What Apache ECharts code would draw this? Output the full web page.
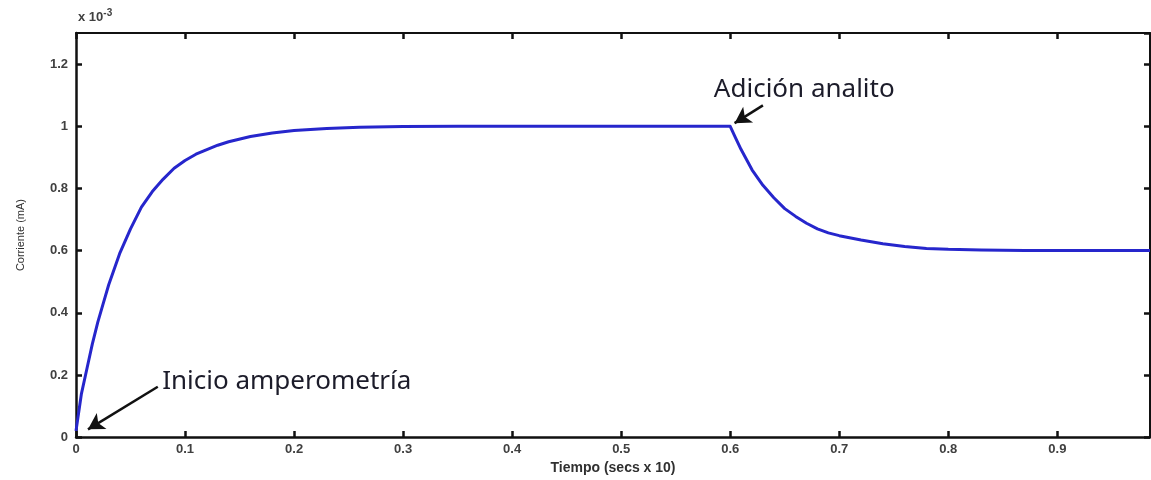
<!DOCTYPE html>
<html>
<head>
<meta charset="utf-8">
<script src="https://cdn.jsdelivr.net/npm/echarts@6/dist/echarts.min.js"></script>
<style>html,body{margin:0;padding:0;background:#fff}#c{width:1151px;height:480px}</style>
</head>
<body>
<div id="c"></div>
<script>
// Time (secs x 10)
const times = [0, 0.005, 0.01, 0.015, 0.02, 0.025, 0.03, 0.04, 0.05, 0.06, 0.07, 0.08, 0.09, 0.1, 0.11, 0.12, 0.13, 0.14, 0.16, 0.18, 0.2, 0.23, 0.26, 0.3, 0.35, 0.6,
  0.605, 0.61, 0.62, 0.63, 0.64, 0.65, 0.66, 0.67, 0.68, 0.69, 0.7, 0.72, 0.74, 0.76, 0.78, 0.8, 0.83, 0.87, 0.985];
// Current (mA x 10^-3)
const current = [0.02, 0.14, 0.22, 0.30, 0.37, 0.43, 0.49, 0.59, 0.67, 0.74, 0.79, 0.83, 0.865, 0.89, 0.91, 0.925, 0.939, 0.95, 0.967, 0.978, 0.986, 0.993, 0.997, 0.999, 1.0, 1.0,
  0.962, 0.925, 0.86, 0.81, 0.77, 0.735, 0.71, 0.688, 0.67, 0.657, 0.648, 0.634, 0.622, 0.613, 0.607, 0.604, 0.602, 0.6, 0.6];
const xTickLabels = ['0', '0.1', '0.2', '0.3', '0.4', '0.5', '0.6', '0.7', '0.8', '0.9'];
const yTickLabels = ['0', '0.2', '0.4', '0.6', '0.8', '1', '1.2'];
const xRange = [0, 0.985];
const yRange = [0, 1.3];
const annotations = [
  { text: 'Adición analito', at: [0.585, 1.118], arrowFrom: [0.630, 1.067], arrowTo: [0.604, 1.01] },
  { text: 'Inicio amperometría', at: [0.079, 0.18], arrowFrom: [0.075, 0.162], arrowTo: [0.011, 0.025] }
];

const seriesData = times.map((t, i) => [t, current[i]]);
const fmt = (list) => (v) => { const s = String(+v.toFixed(3)); return list.includes(s) ? s : ''; };
const labelStyle = { color: '#404040', fontFamily: 'Liberation Sans, Arial', fontWeight: 'bold', fontSize: 13 };
const lineStyleAx = { color: '#111', width: 2.5 };

const chart = echarts.init(document.getElementById('c'), null, { renderer: 'canvas' });
chart.setOption({
  animation: false,
  backgroundColor: '#fff',
  grid: { left: 76, right: 1, top: 33, bottom: 37 },
  xAxis: [
    {
      type: 'value', min: xRange[0], max: xRange[1], interval: 0.1, position: 'bottom',
      name: 'Tiempo (secs x 10)', nameLocation: 'middle', nameGap: 21,
      nameTextStyle: { color: '#303030', fontFamily: 'Liberation Sans, Arial', fontWeight: 'bold', fontSize: 14 },
      axisLine: { onZero: false, lineStyle: lineStyleAx },
      axisTick: { inside: true, length: 6, lineStyle: { color: '#111', width: 2.5 } },
      axisLabel: Object.assign({ formatter: fmt(xTickLabels), margin: 6, showMaxLabel: false }, labelStyle),
      splitLine: { show: false }
    },
    {
      type: 'value', min: xRange[0], max: xRange[1], interval: 0.1, position: 'top',
      axisLine: { onZero: false, lineStyle: { color: '#111', width: 2 } },
      axisTick: { inside: true, length: 6, lineStyle: { color: '#111', width: 2.5 } },
      axisLabel: { show: false }, splitLine: { show: false }
    }
  ],
  yAxis: [
    {
      type: 'value', min: yRange[0], max: yRange[1], interval: 0.2, position: 'left',
      name: 'Corriente (mA)', nameLocation: 'middle', nameGap: 50, nameRotate: 90,
      nameTextStyle: { color: '#303030', fontFamily: 'Liberation Sans, Arial', fontSize: 11 },
      axisLine: { onZero: false, lineStyle: lineStyleAx },
      axisTick: { inside: true, length: 6, lineStyle: { color: '#111', width: 2.5 } },
      axisLabel: Object.assign({ formatter: fmt(yTickLabels), margin: 8, showMaxLabel: false }, labelStyle),
      splitLine: { show: false }
    },
    {
      type: 'value', min: yRange[0], max: yRange[1], interval: 0.2, position: 'right',
      axisLine: { onZero: false, lineStyle: { color: '#111', width: 2 } },
      axisTick: { inside: true, length: 6, lineStyle: { color: '#111', width: 2.5 } },
      axisLabel: { show: false }, splitLine: { show: false }
    }
  ],
  series: [
    {
      type: 'line', data: seriesData, showSymbol: false,
      smooth: false,
      lineStyle: { color: '#2626cc', width: 3, join: 'round' }
    },
    {
      type: 'line', data: [], silent: true,
      markLine: {
        silent: true, symbol: ['none', 'arrow'], symbolSize: [14, 16],
        lineStyle: { color: '#111', width: 2.5, type: 'solid' },
        label: { show: false },
        data: annotations.map(a => [{ coord: a.arrowFrom }, { coord: a.arrowTo }])
      },
      markPoint: {
        silent: true, symbol: 'circle', symbolSize: 0,
        label: {
          show: true, position: 'right', distance: 0,
          formatter: (p) => p.name,
          color: '#1c1c2a', fontFamily: 'Noto Sans, Open Sans', fontSize: 26
        },
        data: annotations.map(a => ({ name: a.text, coord: a.at }))
      }
    }
  ],
  graphic: [
    {
      type: 'text', left: 78, top: 8,
      style: {
        text: 'x 10{sup|-3}',
        fill: '#404040', font: 'bold 13px Liberation Sans, Arial',
        rich: { sup: { fontSize: 10, fontWeight: 'bold', fill: '#404040', verticalAlign: 'top', padding: [0, 0, 8, 0] } }
      }
    }
  ]
});
</script>
</body>
</html>
